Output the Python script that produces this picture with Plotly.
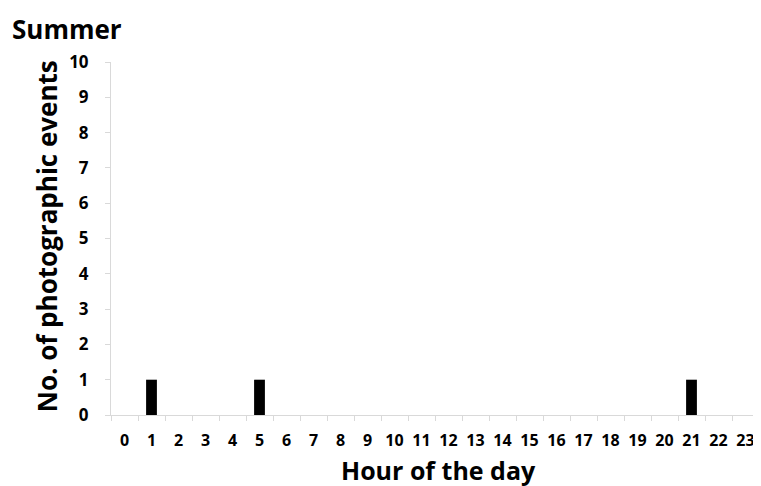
import plotly.graph_objects as go

hours = [str(h) for h in range(24)]
events = [0, 1, 0, 0, 0, 1, 0, 0, 0, 0, 0, 0, 0, 0, 0, 0, 0, 0, 0, 0, 0, 1, 0, 0]
y_ticks = list(range(0, 11))

FONT = "Open Sans"

fig = go.Figure(go.Bar(x=hours, y=events, marker=dict(color="black", line=dict(width=0)), width=0.4))

fig.update_layout(
    width=761, height=486,
    margin=dict(l=103, r=10, t=54, b=79),
    plot_bgcolor="white", paper_bgcolor="white",
    showlegend=False,
    font=dict(family=FONT, color="black"),
    title=dict(text="Summer", x=0.0053, xanchor="left", y=0.9547, yanchor="middle",
               font=dict(size=26, family=FONT, weight="bold", color="black")),
    annotations=[
        dict(text="Hour of the day", xref="paper", yref="paper", x=0.505, y=-0.1555,
             xanchor="center", yanchor="middle", showarrow=False,
             font=dict(size=25, family=FONT, weight="bold", color="black")),
        dict(text="No. of photographic events", xref="paper", yref="paper", x=-0.0985, y=0.507,
             xanchor="center", yanchor="middle", showarrow=False, textangle=-90,
             font=dict(size=26, family=FONT, weight="bold", color="black")),
    ],
)
fig.update_xaxes(
    type="category", tickson="boundaries", ticks="outside", ticklen=5, tickcolor="#d9d9d9",
    showline=True, linecolor="#d9d9d9", linewidth=1, showgrid=False, automargin=False,
    tickangle=0,
    tickfont=dict(size=16, family=FONT, weight="bold"), ticklabelstandoff=11,
)
fig.update_yaxes(
    range=[0, 10], tickvals=y_ticks, ticks="outside", ticklen=5, tickcolor="#d9d9d9",
    showline=True, linecolor="#d9d9d9", linewidth=1, showgrid=False, zeroline=False, automargin=False,
    tickfont=dict(size=17, family=FONT, weight="bold"), ticklabelstandoff=13,
)

fig.write_html("out.html")
